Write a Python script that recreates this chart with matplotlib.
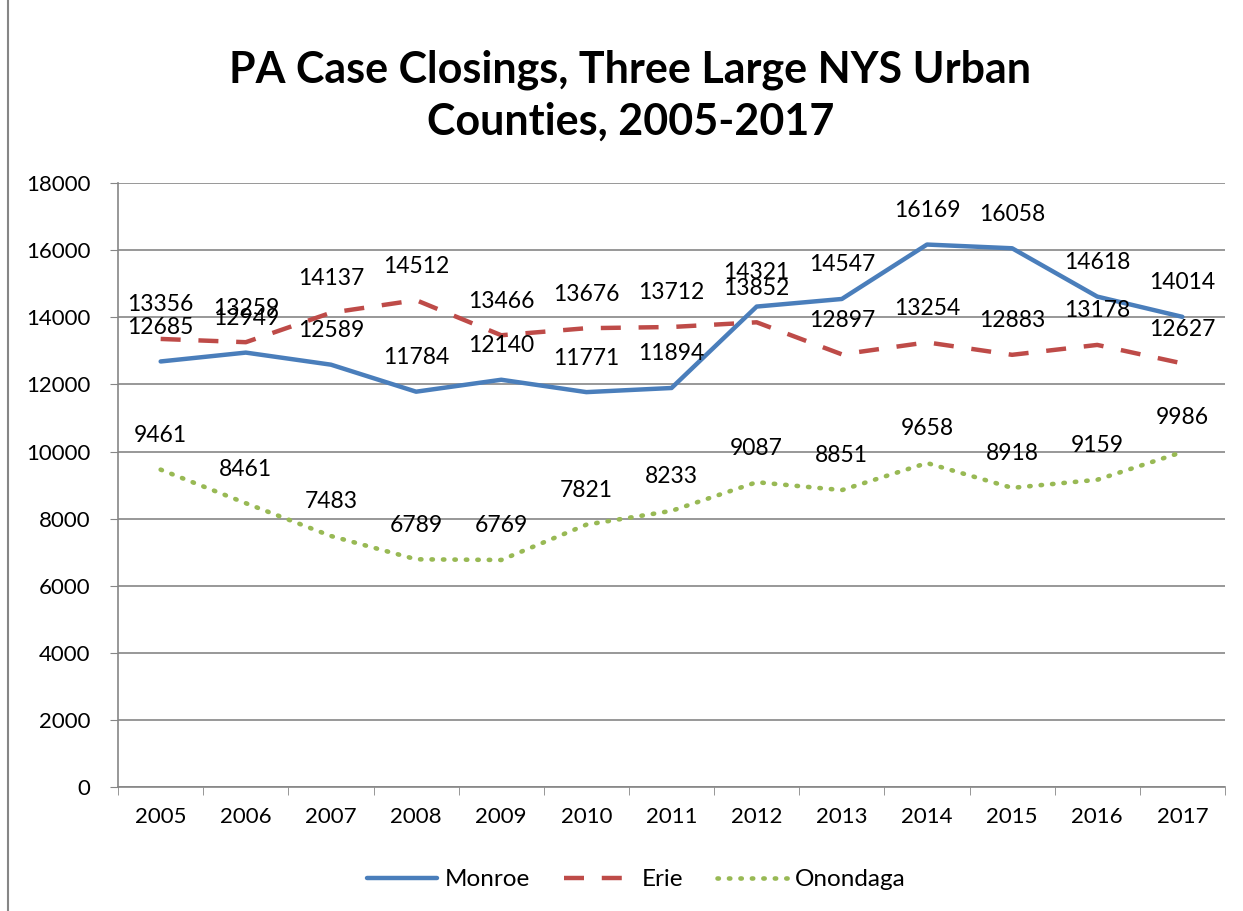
import matplotlib.pyplot as plt
from matplotlib.patches import Rectangle

years = ["2005", "2006", "2007", "2008", "2009", "2010", "2011",
         "2012", "2013", "2014", "2015", "2016", "2017"]
monroe = [12685, 12949, 12589, 11784, 12140, 11771, 11894,
          14321, 14547, 16169, 16058, 14618, 14014]
erie = [13356, 13259, 14137, 14512, 13466, 13676, 13712,
        13852, 12897, 13254, 12883, 13178, 12627]
onondaga = [9461, 8461, 7483, 6789, 6769, 7821, 8233,
            9087, 8851, 9658, 8918, 9159, 9986]

plt.rcParams["font.family"] = ["Lato", "DejaVu Sans"]

fig = plt.figure(figsize=(12.43, 9.11), dpi=100)
ax = fig.add_axes([0.095, 0.136, 0.8905, 0.663])

x = list(range(len(years)))
series = [
    ("Monroe", monroe, "#4A7EBB", "-"),
    ("Erie", erie, "#BE4B48", (0, (4.5, 4))),
    ("Onondaga", onondaga, "#98B954", (0, (0.3, 2.2))),
]
for name, vals, col, ls in series:
    lw = 3.3 if name == "Onondaga" else 3.2
    cap = "round" if name == "Onondaga" else "butt"
    ax.plot(x, vals, color=col, linestyle=ls, linewidth=lw, label=name,
            dash_capstyle=cap, solid_capstyle="round")
    for xi, v in zip(x, vals):
        ax.annotate(str(v), (xi, v), xytext=(0, 17), textcoords="offset points",
                    ha="center", va="bottom", fontsize=16.5, color="black")

ax.set_xlim(-0.5, 12.5)
ax.set_ylim(0, 18000)
ax.set_yticks(range(0, 18001, 2000))
ax.set_xticks(x)
ax.set_xticklabels(years)
ax.set_xticks([i - 0.5 for i in range(14)], minor=True)
ax.tick_params(axis="x", which="major", length=0, labelsize=16, pad=14)
ax.tick_params(axis="x", which="minor", length=6, color="#868686")
ax.tick_params(axis="y", length=6, color="#868686", labelsize=16, pad=14)
ax.grid(True, axis="y", color="#868686", linewidth=1.2)
ax.set_axisbelow(True)
for s in ["top", "right"]:
    ax.spines[s].set_visible(False)
for s in ["left", "bottom"]:
    ax.spines[s].set_color("#868686")
    ax.spines[s].set_linewidth(1.2)

fig.text(0.507, 0.895, "PA Case Closings, Three Large NYS Urban\nCounties, 2005-2017",
         ha="center", va="center", fontsize=31, fontweight="bold", linespacing=1.35)

ax.legend(loc="center", bbox_to_anchor=(0.468, -0.153), ncol=3, frameon=False,
          fontsize=17.5, handlelength=2.9, columnspacing=1.4, handletextpad=0.3)

fig.patches.append(Rectangle((0.0065, -0.01), 1.1, 1.2, transform=fig.transFigure,
                             fill=False, edgecolor="#868686", linewidth=1.5))

fig.savefig("out.png", dpi=100)
